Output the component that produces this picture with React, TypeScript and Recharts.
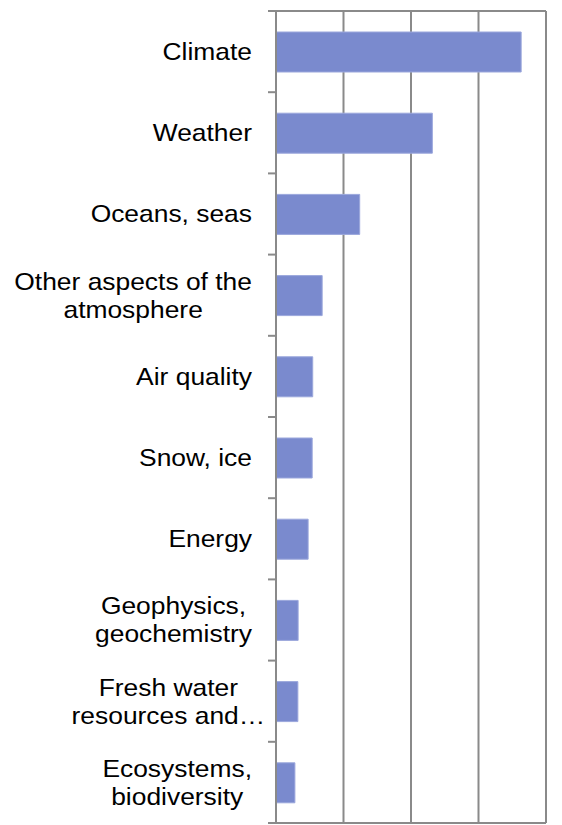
import { BarChart, Bar, XAxis, YAxis, CartesianGrid } from 'recharts';

const categories = [
  'Climate',
  'Weather',
  'Oceans, seas',
  'Other aspects of the atmosphere',
  'Air quality',
  'Snow, ice',
  'Energy',
  'Geophysics, geochemistry',
  'Fresh water resources and…',
  'Ecosystems, biodiversity',
];

// how each category label wraps in the original
const labelLines: string[][] = [
  ['Climate'],
  ['Weather'],
  ['Oceans, seas'],
  ['Other aspects of the', 'atmosphere'],
  ['Air quality'],
  ['Snow, ice'],
  ['Energy'],
  ['Geophysics,', 'geochemistry'],
  ['Fresh water', 'resources and…'],
  ['Ecosystems,', 'biodiversity'],
];

const values = [90.8, 57.9, 31.0, 17.1, 13.6, 13.4, 11.9, 8.2, 8.1, 7.0];

const valueTicks = [0, 25, 50, 75, 100];

const data = categories.map((name, i) => ({ name, value: values[i] }));

const W = 562;
const H = 825;
const MARGIN = { top: 11, right: 16, bottom: 2, left: 0 };
const BAND = (H - MARGIN.top - MARGIN.bottom) / categories.length;
const PLOT_RIGHT = W - MARGIN.right;
const GRID = '#8a8a8a';
const FONT = '"Liberation Sans", Arial, sans-serif';
const FONT_SIZE = 24;
const STRETCH = 1.1; // labels in the source are slightly wide
const LINE_H = 28;

let ctx: CanvasRenderingContext2D | null = null;
function textWidth(s: string) {
  if (!ctx) ctx = document.createElement('canvas').getContext('2d');
  if (!ctx) return s.length * FONT_SIZE * 0.5;
  ctx.font = `${FONT_SIZE}px "Liberation Sans"`;
  return ctx.measureText(s).width * STRETCH;
}

// category label + tick marks on band boundaries (plus top/bottom frame lines)
const CategoryTick = (props: any) => {
  const { x, y, index } = props;
  const lines: string[] = labelLines[index] || [String(props.payload?.value)];
  const axisX = x + 24;
  const top = y - BAND / 2;
  const single = lines.length === 1;
  const maxW = Math.max(...lines.map((l) => textWidth(l.replace('…', ''))));
  const ax = single ? x : x - maxW / 2;
  const first = index === 0;
  const last = index === categories.length - 1;
  return (
    <g>
      <line x1={axisX - 8} x2={first ? PLOT_RIGHT : axisX} y1={top} y2={top} stroke={GRID} strokeWidth={2} />
      {last && (
        <line x1={axisX - 8} x2={PLOT_RIGHT} y1={top + BAND} y2={top + BAND} stroke={GRID} strokeWidth={2} />
      )}
      {lines.map((l, i) => (
        <g key={i} transform={`translate(${ax},${y + (i - (lines.length - 1) / 2) * LINE_H}) scale(${STRETCH},1)`}>
          <text
            x={0}
            y={0}
            dy="0.35em"
            textAnchor={single ? 'end' : 'middle'}
            fill="#000"
            fontSize={FONT_SIZE}
            fontFamily={FONT}
          >
            {l}
          </text>
        </g>
      ))}
    </g>
  );
};

export default function App() {
  return (
    <div style={{ position: 'absolute', left: 0, top: 0, width: W, height: H, background: '#fff' }}>
      <BarChart width={W} height={H} data={data} layout="vertical" margin={MARGIN}>
        <CartesianGrid horizontal={false} stroke={GRID} strokeWidth={2} />
        <XAxis
          type="number"
          orientation="top"
          domain={[0, 100]}
          ticks={valueTicks}
          height={0}
          tickSize={8}
          tick={() => <g />}
          axisLine={{ stroke: GRID, strokeWidth: 2 }}
          tickLine={{ stroke: GRID, strokeWidth: 2 }}
        />
        <YAxis
          type="category"
          dataKey="name"
          width={276}
          tickSize={8}
          tickMargin={16}
          tickLine={false}
          interval={0}
          tick={<CategoryTick />}
          axisLine={{ stroke: GRID, strokeWidth: 2 }}
        />
        <Bar
          dataKey="value"
          fill="#7A8ACE"
          stroke="#9BA7DC"
          strokeWidth={1}
          barSize={40}
          isAnimationActive={false}
        />
      </BarChart>
    </div>
  );
}
